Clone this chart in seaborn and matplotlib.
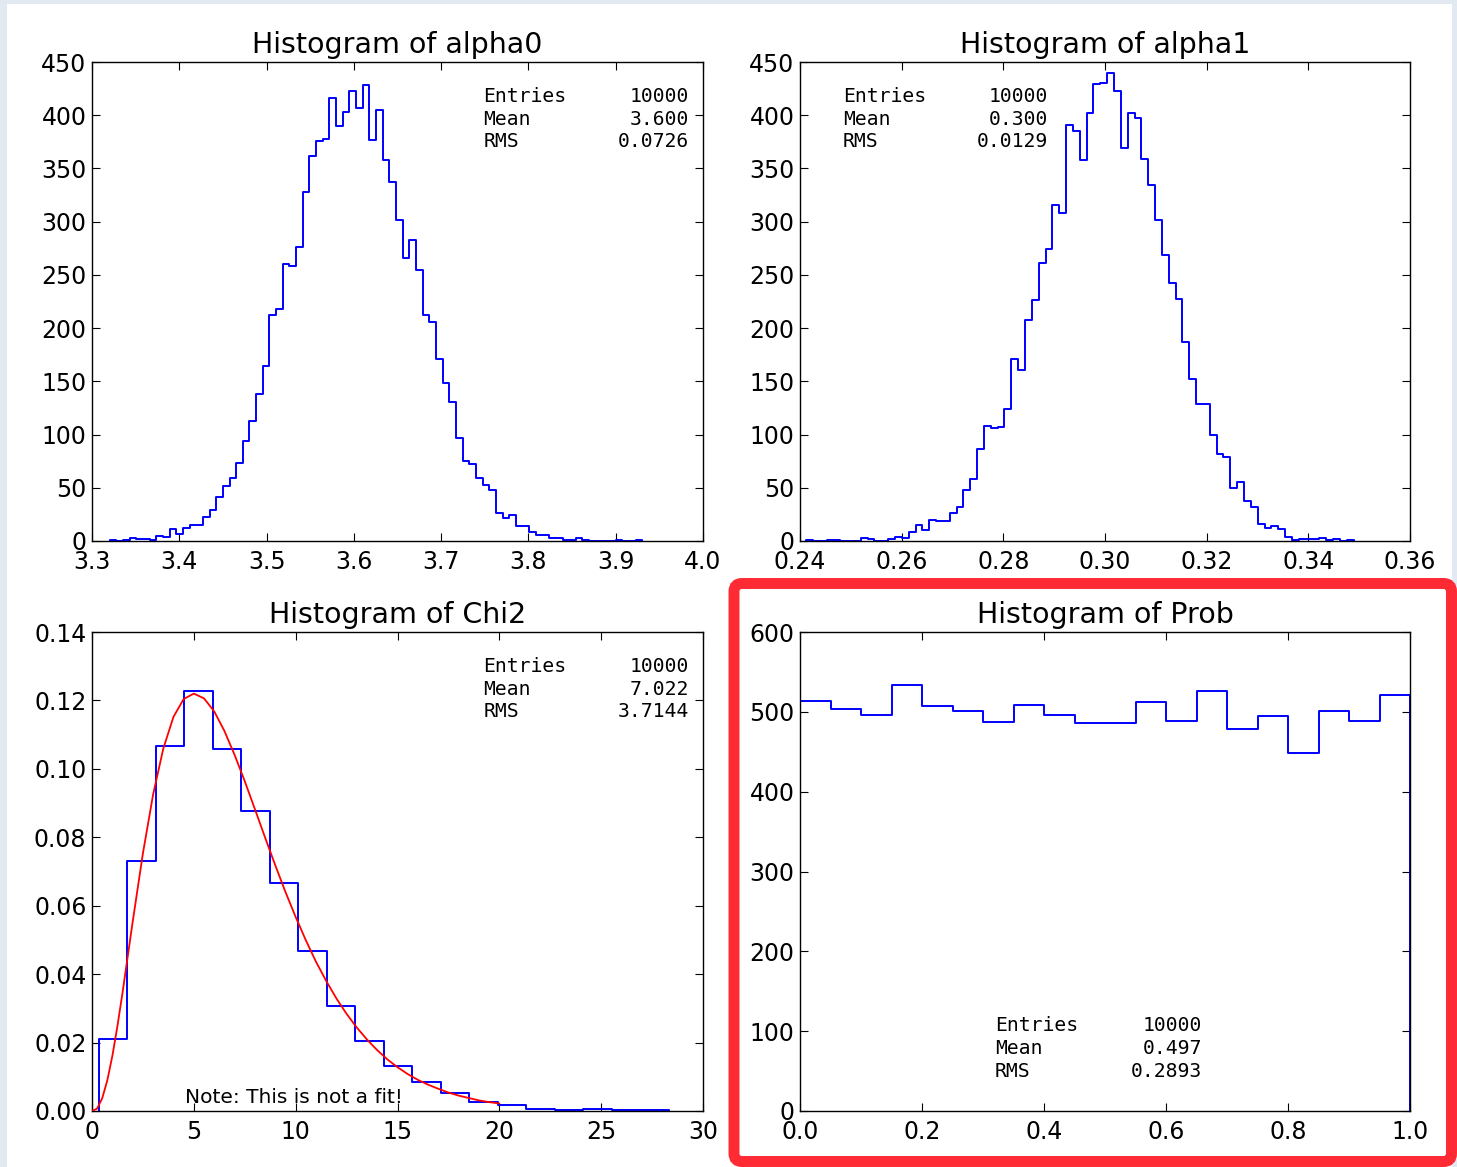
import numpy as np
import pandas as pd
import matplotlib
matplotlib.use("Agg")
import matplotlib.pyplot as plt
from matplotlib.patches import Rectangle, FancyBboxPatch
from matplotlib.ticker import MultipleLocator
import seaborn as sns

# Datos (80 bins entre min y max)
alpha0_range = (3.3202, 3.9306)
alpha0_counts = [1, 0, 1, 3, 2, 2, 1, 5, 4, 11, 7, 12, 15, 15, 23, 29, 41, 52, 59, 73,
                 94, 113, 138, 164, 212, 218, 260, 258, 276, 328, 362, 376, 378, 416, 390, 403, 423, 407, 428, 377,
                 405, 358, 337, 302, 266, 283, 255, 212, 206, 171, 148, 131, 97, 75, 72, 59, 53, 48, 26, 22,
                 24, 14, 14, 8, 6, 6, 3, 3, 1, 1, 3, 1, 0, 0, 0, 0, 1, 0, 0, 1]

alpha1_range = (0.24118, 0.34889)
alpha1_counts = [1, 0, 0, 1, 1, 0, 0, 0, 3, 2, 0, 0, 2, 4, 3, 8, 15, 10, 20, 19,
                 19, 26, 32, 48, 58, 86, 108, 106, 107, 124, 171, 161, 208, 226, 261, 274, 316, 308, 391, 385,
                 358, 402, 429, 430, 440, 423, 369, 402, 397, 359, 334, 302, 269, 242, 227, 187, 152, 129, 129, 100,
                 82, 79, 50, 55, 38, 32, 16, 12, 14, 11, 4, 1, 2, 2, 2, 3, 1, 2, 0, 1]

# Chi2: densidad normalizada, 20 bins
chi2_range = (0.343, 28.317)
chi2_density = [0.0209, 0.0730, 0.1068, 0.1227, 0.1057, 0.0878, 0.0667, 0.0468, 0.0307, 0.0204,
                0.0132, 0.0084, 0.0053, 0.0027, 0.0017, 0.0007, 0.0004, 0.0005, 0.0002, 0.0003]

# curva roja ("Note: This is not a fit!")
chi2_curve_x = [0.0, 0.25, 0.5, 0.75, 1.0, 1.25, 1.5, 2.0, 2.5, 3.0, 3.5, 4.0, 4.5, 5.0, 5.5, 6.0, 6.5,
                7.0, 7.5, 8.0, 8.5, 9.0, 9.5, 10.0, 10.5, 11.0, 11.5, 12.0, 12.5, 13.0, 13.5, 14.0,
                14.5, 15.0, 15.5, 16.0, 16.5, 17.0, 17.5, 18.0, 18.5, 19.0, 19.5, 20.0]
chi2_curve_y = [0.0, 0.0007, 0.0037, 0.0089, 0.0161, 0.0249, 0.0346, 0.0554, 0.0753, 0.0925, 0.1059,
                0.1152, 0.1204, 0.1220, 0.1206, 0.1168, 0.1111, 0.1041, 0.0964, 0.0882, 0.0799,
                0.0718, 0.0640, 0.0567, 0.0499, 0.0436, 0.0380, 0.0329, 0.0284, 0.0244, 0.0209,
                0.0178, 0.0151, 0.0128, 0.0108, 0.0091, 0.0077, 0.0065, 0.0054, 0.0045, 0.0038,
                0.0031, 0.0026, 0.0022]

prob_range = (0.0, 1.0)
prob_counts = [513, 503, 496, 534, 507, 501, 487, 509, 496, 486,
               486, 512, 489, 526, 478, 495, 448, 501, 488, 521]

stat_labels = ["Entries", "Mean", "RMS"]
alpha0_stats = ["10000", "3.600", "0.0726"]
alpha1_stats = ["10000", "0.300", "0.0129"]
chi2_stats = ["10000", "7.022", "3.7144"]
prob_stats = ["10000", "0.497", "0.2893"]

AZUL = "#0000ff"

sns.set_style("ticks", {"xtick.direction": "in", "ytick.direction": "in",
                        "axes.edgecolor": "black", "xtick.color": "black",
                        "ytick.color": "black", "text.color": "black"})
plt.rcParams["font.family"] = ["DejaVu Sans"]

W, H = 1457, 1167
fig = plt.figure(figsize=(W / 100, H / 100), dpi=100)
fig.patch.set_facecolor("#e3e9f1")
fig.add_artist(Rectangle((7 / W, 0), (1452 - 7) / W, (H - 4) / H, transform=fig.transFigure,
                         facecolor="white", edgecolor="none", zorder=-5))


def panel(px_left, px_top, px_right, px_bottom):
    return fig.add_axes([px_left / W, 1 - px_bottom / H, (px_right - px_left) / W, (px_bottom - px_top) / H])


def histograma(ax, rng, valores):
    n = len(valores)
    ancho = (rng[1] - rng[0]) / n
    centros = rng[0] + ancho * (np.arange(n) + 0.5)
    df = pd.DataFrame({"x": centros, "w": np.asarray(valores, dtype=float)})
    sns.histplot(data=df, x="x", weights="w", binwidth=ancho, binrange=rng, element="step",
                 fill=False, color=AZUL, linewidth=1.4, ax=ax)
    # extremos verticales como en histtype='step'
    ax.vlines([rng[0], rng[1]], 0, [valores[0], valores[-1]], color=AZUL, linewidth=1.4)


def estilo(ax, titulo, xlim, ylim, xstep, ystep):
    ax.set_xlim(*xlim)
    ax.set_ylim(*ylim)
    ax.xaxis.set_major_locator(MultipleLocator(xstep))
    ax.yaxis.set_major_locator(MultipleLocator(ystep))
    ax.tick_params(which="both", direction="in", top=True, right=True, length=6, width=0.8,
                   labelsize=17, pad=4)
    ax.tick_params(axis="x", pad=6.5)
    for s in ax.spines.values():
        s.set_linewidth(1.0)
        s.set_color("black")
        s.set_visible(True)
    ax.set_xlabel("")
    ax.set_ylabel("")
    ax.set_title(titulo, fontsize=20.5, pad=6.5)


def stats(ax, x_lab, x_val, ys, valores):
    for lab, val, y in zip(stat_labels, valores, ys):
        ax.text(x_lab, y, lab, transform=ax.transAxes, family="DejaVu Sans Mono", fontsize=14.2,
                ha="left", va="baseline")
        ax.text(x_val, y, val, transform=ax.transAxes, family="DejaVu Sans Mono", fontsize=14.2,
                ha="right", va="baseline")


ys_top = [0.916, 0.869, 0.822]

# alpha0
ax1 = panel(92, 62, 703, 541)
histograma(ax1, alpha0_range, alpha0_counts)
estilo(ax1, "Histogram of alpha0", (3.3, 4.0), (0, 450), 0.1, 50)
stats(ax1, 0.6404, 0.9771, ys_top, alpha0_stats)

# alpha1
ax2 = panel(800, 62, 1410, 541)
histograma(ax2, alpha1_range, alpha1_counts)
estilo(ax2, "Histogram of alpha1", (0.24, 0.36), (0, 450), 0.02, 50)
stats(ax2, 0.070, 0.406, ys_top, alpha1_stats)

# Chi2
ax3 = panel(92, 632, 703, 1111)
histograma(ax3, chi2_range, chi2_density)
sns.lineplot(x=chi2_curve_x, y=chi2_curve_y, color="#ff0000", linewidth=1.3, ax=ax3, zorder=3)
estilo(ax3, "Histogram of Chi2", (0, 30), (0, 0.14), 5, 0.02)
stats(ax3, 0.6404, 0.9771, ys_top, chi2_stats)
ax3.text(4.55, 0.0024, "Note: This is not a fit!", fontsize=14.5, ha="left", va="baseline")

# Prob
ax4 = panel(800, 632, 1410, 1111)
histograma(ax4, prob_range, prob_counts)
estilo(ax4, "Histogram of Prob", (0, 1.0), (0, 600), 0.2, 100)
stats(ax4, 0.3197, 0.659, [0.167, 0.119, 0.071], prob_stats)

# recuadro rojo de resaltado
fig.add_artist(FancyBboxPatch((734 / 100, 5.5 / 100), (1451.5 - 734) / 100, (1161.5 - 583.5) / 100,
                              boxstyle="round,pad=0,rounding_size=0.08", transform=fig.dpi_scale_trans,
                              fill=False, edgecolor="#fe2b35", linewidth=7.9, zorder=10))

fig.savefig("out.png", dpi=100, facecolor=fig.get_facecolor())
